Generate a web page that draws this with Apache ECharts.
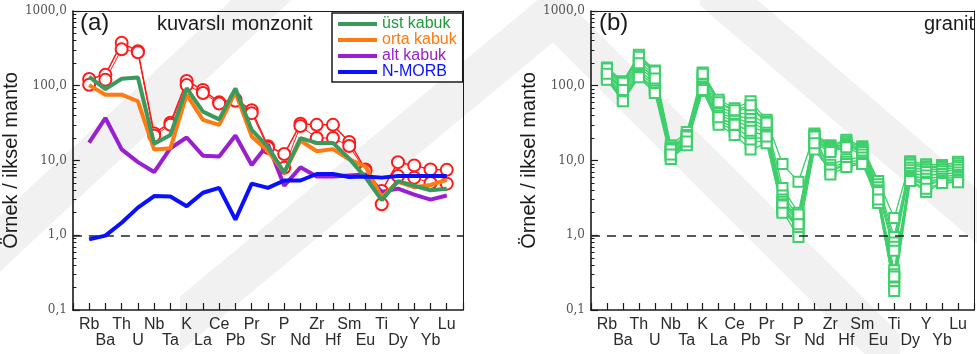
<!DOCTYPE html>
<html>
<head>
<meta charset="utf-8">
<script src="https://cdn.jsdelivr.net/npm/echarts@6/dist/echarts.min.js"></script>
<style>
  html, body { margin: 0; padding: 0; background: #fff; }
  #chart { width: 977px; height: 354px; }
</style>
</head>
<body>
<div id="chart"></div>
<script>
// Element order along the spider diagram (primitive-mantle normalised)
const elements = ['Rb','Ba','Th','U','Nb','Ta','K','La','Ce','Pb','Pr','Sr','P','Nd','Zr','Hf','Sm','Eu','Ti','Dy','Y','Yb','Lu'];

// Reference compositions
const ustKabuk  = [132, 90, 124, 129, 16.8, 22, 93, 45, 35.5, 92, 25.7, 15.2, 6.9, 19.9, 17.2, 17.2, 10.6, 5.95, 2.95, 5.3, 4.6, 4.0, 4.2];
const ortaKabuk = [102, 76, 76, 62, 14, 14.6, 76, 35, 30, 82, 21, 13.4, 6.9, 18.5, 13.3, 14.2, 10.4, 8.3, 3.2, 5.2, 4.4, 4.7, 5.5];
const altKabuk  = [17.3, 37, 14.1, 9.5, 7.0, 14.6, 20.3, 11.6, 11.3, 21.6, 8.7, 16.5, 4.6, 8.1, 6.1, 6.1, 6.3, 6.5, 3.8, 4.2, 3.5, 3.0, 3.4];
const nMorb     = [0.88, 0.99, 1.47, 2.34, 3.35, 3.3, 2.45, 3.7, 4.3, 1.62, 4.9, 4.3, 5.4, 5.4, 6.6, 6.6, 6.0, 6.1, 5.9, 6.2, 6.2, 6.2, 6.2];

// Quartz monzonite samples
const monzonit1 = [123, 140, 375, 290, 23, 32, 116, 88, 60, 66, 47, 15.5, 12.2, 31, 30, 30, 17.7, 7.6, 3.9, 9.5, 8.6, 7.6, 7.5];
const monzonit2 = [103, 120, 307, 280, 21.5, 30, 102, 80, 58, 63, 43, 14.8, 8.0, 29, 20, 20, 15.6, 7.3, 2.6, 6.2, 5.9, 5.0, 4.9];

// Granite samples
const granit1  = [175, 115, 260, 160, 16.0, 24, 150, 65, 50, 62, 35, 9.0, 5.2, 23, 16.0, 19, 15.5, 5.3, 1.7, 9.8, 8.9, 8.7, 9.6];
const granit2  = [165, 105, 230, 150, 15.0, 22, 140, 58, 46, 50, 33, 4.3, 2.0, 22, 15.5, 18, 15.0, 4.8, 0.95, 9.3, 8.4, 8.3, 9.1];
const granit3  = [155, 100, 210, 140, 14.5, 21, 130, 52, 43, 42, 30, 3.4, 1.8, 21, 15.0, 17, 14.5, 4.4, 0.80, 8.8, 8.0, 8.0, 8.6];
const granit4  = [148, 92, 190, 130, 13.5, 20, 120, 47, 40, 36, 28, 3.0, 1.7, 20, 14.5, 16.5, 14.0, 4.0, 0.70, 8.0, 7.5, 7.6, 8.1];
const granit5  = [140, 85, 175, 120, 13.0, 19, 112, 43, 37, 32, 26, 2.8, 1.6, 19, 14.0, 16, 13.5, 3.6, 0.62, 7.4, 7.0, 7.2, 7.5];
const granit6  = [132, 78, 160, 110, 12.5, 18, 105, 40, 34, 28, 24, 2.6, 1.5, 18, 13.5, 15.5, 13.0, 3.3, 0.34, 6.8, 6.3, 6.6, 6.9];
const granit7  = [128, 72, 150, 100, 12.0, 17.5, 98, 36, 31, 24, 22, 2.4, 1.4, 17, 13.0, 15, 12.0, 3.1, 0.30, 6.3, 5.7, 6.1, 6.4];
const granit8  = [124, 68, 140, 92, 11.5, 17, 93, 34, 28, 20, 20, 2.3, 1.3, 16, 8.8, 10.4, 11.0, 2.9, 0.27, 6.0, 5.2, 5.7, 6.0];
const granit9  = [122, 65, 135, 86, 11.0, 16.5, 90, 32, 25, 17, 19, 2.2, 1.2, 15, 8.0, 9.6, 10.0, 2.8, 0.24, 5.7, 4.6, 5.4, 5.6];
const granit10 = [120, 62, 130, 80, 10.5, 16, 85, 30, 22, 14, 17, 2.1, 0.95, 14, 7.2, 8.8, 9.5, 2.7, 0.20, 5.4, 3.8, 5.0, 5.2];
const granit11 = [170, 110, 245, 155, 14.0, 21, 145, 60, 47, 55, 32, 2.5, 1.9, 21, 7.5, 9.0, 9.0, 3.8, 0.28, 5.6, 5.0, 5.3, 5.4];
const granit12 = [145, 88, 200, 125, 12.0, 18, 88, 38, 30, 25, 21, 2.0, 1.4, 17, 6.5, 8.2, 9.0, 3.0, 0.18, 5.3, 4.2, 5.0, 5.1];
const granitSamples = [granit1, granit2, granit3, granit4, granit5, granit6, granit7, granit8, granit9, granit10, granit11, granit12];

const SANS = 'Liberation Sans, Arial, Helvetica, sans-serif';
const SERIF = 'DejaVu Serif, Liberation Serif, serif';
const INK = '#1a1a1a';

const toPoints = arr => arr.map((v, i) => [i, v]);

const gridBox = [
  { left: 71, top: 11, width: 392, height: 299 },
  { left: 591, top: 11, width: 392, height: 299 }
];

function elementAxis(gi) {
  return {
    type: 'value', gridIndex: gi, min: -1, max: 23, interval: 1, position: 'bottom',
    axisLine: { show: true, onZero: false, lineStyle: { color: INK, width: 1.6 } },
    axisTick: { show: true, inside: true, length: 7, lineStyle: { color: INK, width: 1.2 } },
    splitLine: { show: false },
    axisLabel: {
      margin: 7, fontFamily: SANS, fontSize: 16, lineHeight: 16, color: '#2a2a2a',
      formatter: v => {
        const name = elements[v];
        if (!name) return '';
        return v % 2 === 0 ? name : '\n' + name;
      }
    }
  };
}

function logAxis(gi) {
  return {
    type: 'log', logBase: 10, gridIndex: gi, min: 0.1, max: 1000, position: 'left',
    name: 'Örnek / ilksel manto', nameLocation: 'middle', nameGap: 50,
    nameTextStyle: { fontFamily: SANS, fontSize: 20, color: INK },
    axisLine: { show: true, onZero: false, lineStyle: { color: INK, width: 1.6 } },
    axisTick: { show: true, inside: true, length: 7, lineStyle: { color: INK, width: 1.2 } },
    minorTick: { show: true, splitNumber: 9, length: 3.5, lineStyle: { color: INK, width: 1 } },
    splitLine: { show: false },
    minorSplitLine: { show: false },
    axisLabel: {
      margin: 6, fontFamily: SERIF, fontSize: 12, color: '#555',
      formatter: v => Number(v).toFixed(1).replace('.', ',')
    }
  };
}

// Plain frame axes closing each plot box on the top and right sides
function frameX(gi) {
  return {
    type: 'value', gridIndex: gi, min: -1, max: 23, position: 'top',
    axisLine: { show: true, onZero: false, lineStyle: { color: INK, width: 1 } },
    axisTick: { show: false }, axisLabel: { show: false }, splitLine: { show: false }
  };
}
function frameY(gi) {
  return {
    type: 'log', logBase: 10, gridIndex: gi, min: 0.1, max: 1000, position: 'right',
    axisLine: { show: true, onZero: false, lineStyle: { color: INK, width: 1 } },
    axisTick: { show: false }, minorTick: { show: false }, axisLabel: { show: false }, splitLine: { show: false }
  };
}

function unityLine() {
  return {
    silent: true, symbol: ['none', 'none'], animation: false,
    label: { show: false },
    lineStyle: { type: [9, 7], color: '#222', width: 1.6 },
    data: [{ yAxis: 1 }]
  };
}

function refSeries(name, values, color, z) {
  return {
    name, type: 'line', xAxisIndex: 0, yAxisIndex: 0, data: toPoints(values),
    showSymbol: false, symbol: 'none', z,
    lineStyle: { color, width: 4 }, itemStyle: { color }
  };
}

function sampleSeries(values, width) {
  return {
    type: 'line', xAxisIndex: 0, yAxisIndex: 0, data: toPoints(values), z: 3,
    symbol: 'emptyCircle', symbolSize: 12,
    lineStyle: { color: '#ff1a1a', width },
    itemStyle: { color: '#ff1a1a', borderColor: '#ff1a1a', borderWidth: 1.5 }
  };
}

const GREEN = '#3a9a5e', ORANGE = '#ff7a10', PURPLE = '#9a1fcf', BLUE = '#0a10ff';

const series = [
  sampleSeries(monzonit1, 1.5),
  sampleSeries(monzonit2, 1),
  refSeries('alt kabuk', altKabuk, PURPLE, 4),
  refSeries('orta kabuk', ortaKabuk, ORANGE, 5),
  refSeries('üst kabuk', ustKabuk, GREEN, 6),
  Object.assign(refSeries('N-MORB', nMorb, BLUE, 7), { markLine: unityLine() })
];

granitSamples.forEach((g, k) => {
  const s = {
    type: 'line', xAxisIndex: 1, yAxisIndex: 1, data: toPoints(g), z: 3,
    symbol: 'emptyRect', symbolSize: 10,
    lineStyle: { color: '#3fcf6c', width: 1.3 },
    itemStyle: { color: '#3fcf6c', borderColor: '#3fcf6c', borderWidth: 1.5 }
  };
  if (k === 0) s.markLine = unityLine();
  series.push(s);
});

// Faint background chevron bands
function band(x1, y1, x2, y2, t) {
  return {
    type: 'polygon', z: -10, silent: true,
    shape: { points: [[x1, y1 - t / 2], [x2, y2 - t / 2], [x2, y2 + t / 2], [x1, y1 + t / 2]] },
    style: { fill: '#f1f1f1' }
  };
}

const option = {
  animation: false,
  backgroundColor: '#ffffff',
  graphic: [
    band(-20, 262, 300, -36, 56),
    band(180, 324, 560, 9, 55),
    band(700, -22, 1000, 236, 55),
    band(540, 2, 900, 362, 55)
  ],
  title: [
    { text: '(a)', left: 80, top: 11, padding: 0, textStyle: { fontFamily: SANS, fontSize: 24, fontWeight: 'normal', color: INK } },
    { text: 'kuvarslı monzonit', left: 157, top: 14, padding: 0, textStyle: { fontFamily: SANS, fontSize: 20, fontWeight: 'normal', color: INK } },
    { text: '(b)', left: 599, top: 11, padding: 0, textStyle: { fontFamily: SANS, fontSize: 24, fontWeight: 'normal', color: INK } },
    { text: 'granit', right: 3, top: 14, padding: 0, textStyle: { fontFamily: SANS, fontSize: 20, fontWeight: 'normal', color: INK } }
  ],
  legend: {
    orient: 'vertical', left: 332, top: 13,
    icon: 'rect', itemWidth: 39, itemHeight: 4, itemGap: 0,
    padding: [3, 6, 2, 6], borderColor: INK, borderWidth: 1.5, backgroundColor: '#fff',
    textStyle: { fontFamily: SANS, fontSize: 16, lineHeight: 15 },
    data: [
      { name: 'üst kabuk', textStyle: { color: '#1f9a3c' } },
      { name: 'orta kabuk', textStyle: { color: ORANGE } },
      { name: 'alt kabuk', textStyle: { color: PURPLE } },
      { name: 'N-MORB', textStyle: { color: BLUE } }
    ]
  },
  grid: gridBox.map(g => Object.assign({ containLabel: false }, g)),
  xAxis: [elementAxis(0), elementAxis(1), frameX(0), frameX(1)],
  yAxis: [logAxis(0), logAxis(1), frameY(0), frameY(1)],
  series
};

const chart = echarts.init(document.getElementById('chart'), null, { renderer: 'canvas' });
chart.setOption(option);
</script>
</body>
</html>
